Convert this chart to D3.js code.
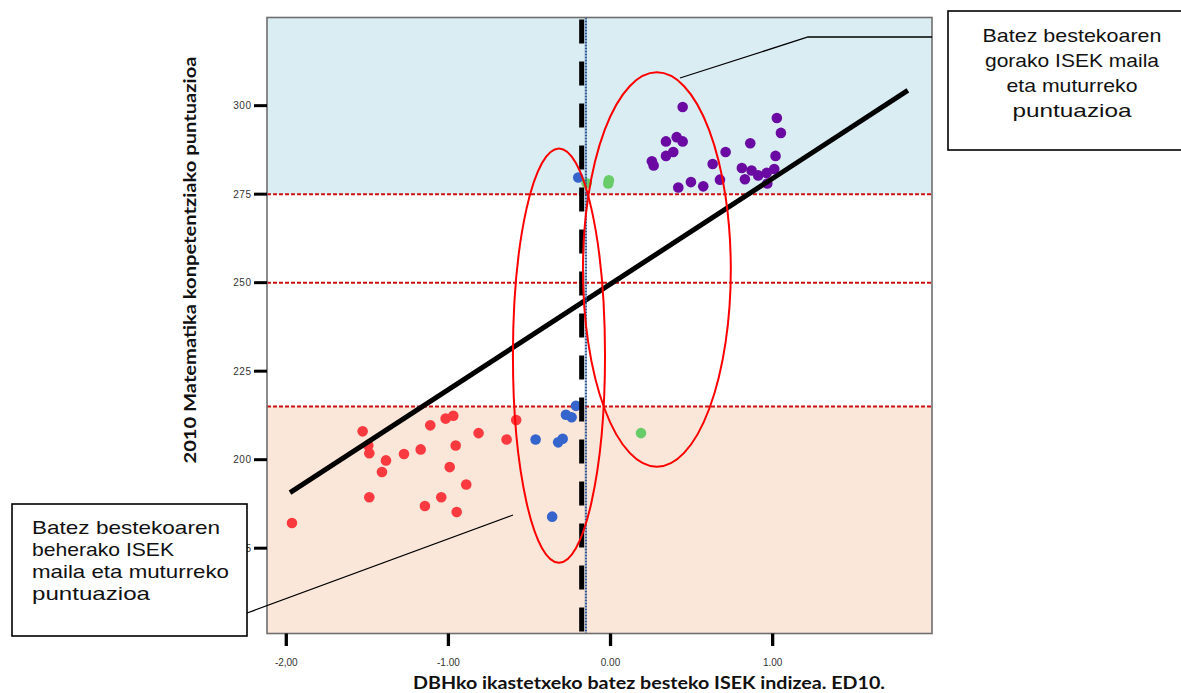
<!DOCTYPE html>
<html><head><meta charset="utf-8">
<script src="https://cdn.jsdelivr.net/npm/d3@7"></script>
<style>html,body{margin:0;padding:0;background:#fff;}svg{display:block;}</style>
</head><body>
<svg id="c" width="1181" height="693"></svg>
<script>
// ---- data ----
const redX = [-1.965,-1.529,-1.494,-1.488,-1.488,-1.410,-1.385,-1.274,-1.171,-1.145,-1.112,-1.044,-1.017,-0.970,-0.955,-0.949,-0.992,-0.890,-0.814,-0.641,-0.582];
const redY = [182.1,208.0,204.0,201.8,189.4,196.5,199.8,201.6,202.9,186.9,209.7,189.4,211.6,212.4,204.0,185.2,197.9,193.0,207.5,205.7,211.2];
const blueX = [-0.462,-0.323,-0.295,-0.275,-0.240,-0.213,-0.360,-0.199];
const blueY = [205.7,204.9,205.9,212.7,212.0,215.2,183.9,279.7];
const greenX = [-0.147,-0.010,-0.014,0.188];
const greenY = [278.1,278.9,278.0,207.5];
const purpleX = [0.445,0.342,0.408,0.445,0.387,0.342,0.255,0.266,0.418,0.496,0.572,0.630,0.675,0.710,0.862,0.810,0.829,0.870,0.911,0.963,0.967,1.010,1.018,1.026,1.051];
const purpleY = [299.6,289.9,291.1,289.9,286.9,285.8,284.3,283.1,276.9,278.4,277.2,283.5,279.1,286.9,289.4,282.4,279.2,281.7,280.3,281.0,278.0,282.1,285.8,296.5,292.3];
const regX = [-1.977, 1.834];
const regY = [190.7, 304.3];
const refLines = [215, 250, 275];
const upperBand = 275, lowerBand = 215;
const meanX = -0.178, medianX = -0.152;
const yTicks = [175, 200, 225, 250, 275, 300];
const xTicks = [-2, -1, 0, 1];
const xTickLabels = ["-2,00", "-1.00", "0.00", "1.00"];
// ellipses: [cx, cy, rx, ry] in data units
const ellipses = [[-0.318, 229.4, 0.284, 58.5], [0.286, 253.7, 0.456, 55.7]];
const yTitle = "2010 Matematika konpetentziako puntuazioa";
const xTitle = "DBHko ikastetxeko batez besteko ISEK indizea. ED10.";
const noteHigh = ["Batez bestekoaren", "gorako ISEK maila", "eta muturreko", "puntuazioa"];
const noteLow = ["Batez bestekoaren", "beherako ISEK", "maila eta muturreko", "puntuazioa"];

// ---- layout ----
const L = 267, R = 932, T = 17.5, B = 633.5;
const x = d3.scaleLinear().domain([-2.119, 1.983]).range([L, R]);
const y = d3.scaleLinear().domain([150.9, 324.9]).range([B, T]);
const svg = d3.select("#c");

// bands
svg.append("rect").attr("x", L).attr("y", T).attr("width", R - L).attr("height", y(upperBand) - T).attr("fill", "#daedf3");
svg.append("rect").attr("x", L).attr("y", y(lowerBand)).attr("width", R - L).attr("height", B - y(lowerBand)).attr("fill", "#fbe7d9");

// reference lines
svg.selectAll(".ref").data(refLines).enter().append("line")
  .attr("x1", L).attr("x2", R).attr("y1", d => y(d)).attr("y2", d => y(d))
  .attr("stroke", "#cc1010").attr("stroke-width", 2).attr("stroke-dasharray", "4,2");

// points
function dots(xs, ys, col) {
  svg.append("g").selectAll("circle").data(xs.map((v, i) => [v, ys[i]])).enter().append("circle")
    .attr("cx", d => x(d[0])).attr("cy", d => y(d[1])).attr("r", 5.3).attr("fill", col);
}
dots(redX, redY, "#fb3a3f");
dots(blueX, blueY, "#3565cc");
dots(greenX, greenY, "#68cc68");
dots(purpleX, purpleY, "#6a0aa2");

// regression line
svg.append("line").attr("x1", x(regX[0])).attr("y1", y(regY[0])).attr("x2", x(regX[1])).attr("y2", y(regY[1]))
  .attr("stroke", "#000").attr("stroke-width", 5);

// vertical lines
svg.append("line").attr("x1", x(medianX)).attr("x2", x(medianX)).attr("y1", T).attr("y2", B)
  .attr("stroke", "#2f5a96").attr("stroke-width", 2.2).attr("stroke-dasharray", "2,1");
svg.append("line").attr("x1", x(meanX)).attr("x2", x(meanX)).attr("y1", T + 2).attr("y2", B)
  .attr("stroke", "#000").attr("stroke-width", 5).attr("stroke-dasharray", "24,18");

// ellipses
svg.selectAll(".ell").data(ellipses).enter().append("ellipse")
  .attr("cx", d => x(d[0])).attr("cy", d => y(d[1]))
  .attr("rx", d => x(d[0] + d[2]) - x(d[0])).attr("ry", d => y(d[1] - d[3]) - y(d[1]))
  .attr("fill", "none").attr("stroke", "#ff0000").attr("stroke-width", 2);

// frame
svg.append("rect").attr("x", L).attr("y", T).attr("width", R - L).attr("height", B - T)
  .attr("fill", "none").attr("stroke", "#6e6e6e").attr("stroke-width", 1.6);

// y ticks
const yt = svg.append("g");
yt.selectAll("line").data(yTicks).enter().append("line")
  .attr("x1", 254).attr("x2", L).attr("y1", d => y(d)).attr("y2", d => y(d))
  .attr("stroke", "#000").attr("stroke-width", 3);
yt.selectAll("text").data(yTicks).enter().append("text")
  .attr("x", 251.5).attr("y", d => y(d) + 3.5).attr("text-anchor", "end")
  .attr("font-family", "Liberation Sans, Arial, sans-serif").attr("font-size", 10).attr("fill", "#333")
  .attr("letter-spacing", 0.5).text(d => d);
// x ticks
const xt = svg.append("g");
xt.selectAll("line").data(xTicks).enter().append("line")
  .attr("x1", d => x(d)).attr("x2", d => x(d)).attr("y1", B).attr("y2", 646)
  .attr("stroke", "#000").attr("stroke-width", 3.3);
xt.selectAll("text").data(xTicks).enter().append("text")
  .attr("x", d => x(d)).attr("y", 666).attr("text-anchor", "middle")
  .attr("font-family", "Liberation Sans, Arial, sans-serif").attr("font-size", 10).attr("fill", "#333")
  .text((d, i) => xTickLabels[i]);

// axis titles
svg.append("text").attr("transform", "translate(196,260) rotate(-90)").attr("text-anchor", "middle")
  .attr("font-family", "Lato, sans-serif").attr("font-weight", "bold").attr("font-size", 17).attr("fill", "#111")
  .attr("textLength", 407).attr("lengthAdjust", "spacingAndGlyphs").text(yTitle);
svg.append("text").attr("x", 649).attr("y", 689).attr("text-anchor", "middle")
  .attr("font-family", "Lato, sans-serif").attr("font-weight", "bold").attr("font-size", 16.5).attr("fill", "#111")
  .attr("textLength", 472).attr("lengthAdjust", "spacingAndGlyphs").text(xTitle);

// annotation connectors
svg.append("polyline").attr("points", "680,78 808,37 932,37").attr("fill", "none").attr("stroke", "#000").attr("stroke-width", 1.3);
svg.append("line").attr("x1", 247).attr("y1", 613).attr("x2", 513).attr("y2", 515).attr("stroke", "#000").attr("stroke-width", 1.3);

// annotation boxes
svg.append("rect").attr("x", 948).attr("y", 11).attr("width", 250).attr("height", 139).attr("fill", "#fff").attr("stroke", "#000").attr("stroke-width", 1.6);
const hiW = [179, 174, 131, 119];
noteHigh.forEach((t, i) => {
  svg.append("text").attr("x", 1072).attr("y", 42 + i * 25).attr("text-anchor", "middle")
    .attr("font-family", "Liberation Sans, Arial, sans-serif").attr("font-size", 19).attr("fill", "#111")
    .attr("textLength", hiW[i]).attr("lengthAdjust", "spacingAndGlyphs").text(t);
});
svg.append("rect").attr("x", 12).attr("y", 504).attr("width", 235).attr("height", 132).attr("fill", "#fff").attr("stroke", "#000").attr("stroke-width", 1.6);
const loW = [188, 142, 197, 118];
noteLow.forEach((t, i) => {
  svg.append("text").attr("x", 32).attr("y", 534 + i * 22)
    .attr("font-family", "Liberation Sans, Arial, sans-serif").attr("font-size", 19).attr("fill", "#111")
    .attr("textLength", loW[i]).attr("lengthAdjust", "spacingAndGlyphs").text(t);
});
</script>
</body></html>
